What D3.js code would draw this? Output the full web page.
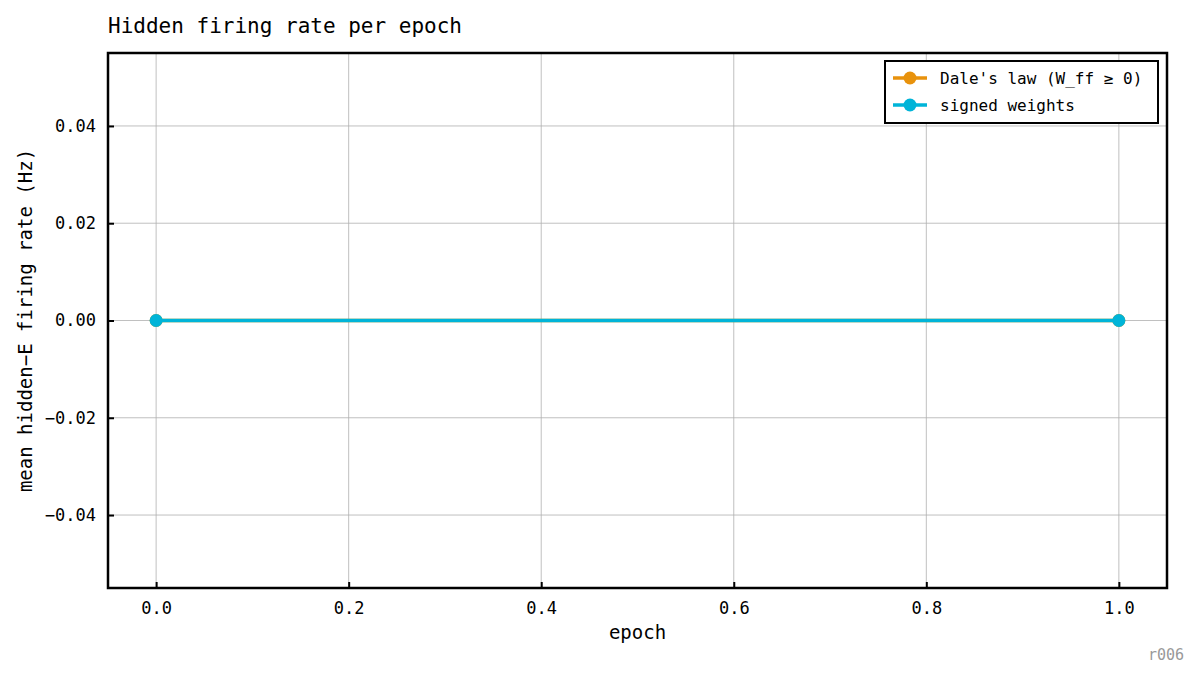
<!DOCTYPE html>
<html><head><meta charset="utf-8">
<script src="https://cdn.jsdelivr.net/npm/d3@7"></script>
<style>body{margin:0;background:#fff}text{font-family:"DejaVu Sans Mono",monospace}</style>
</head><body><svg id="c" width="1199" height="678"></svg>
<script>
const epochs=[0,1];
const daleValues=[0,0];
const signedValues=[0,0];
const xTicks=[0,0.2,0.4,0.6,0.8,1.0];
const yTicks=[-0.04,-0.02,0,0.02,0.04];
const seriesNames=["Dale's law (W_ff ≥ 0)","signed weights"];
const colors=["#e8920c","#00b4d8"];

const svg=d3.select("#c");
const L=108,R=1167,T=53,B=588;
const x=d3.scaleLinear().domain([-0.05,1.05]).range([L,R]);
const y=d3.scaleLinear().domain([-0.055,0.055]).range([B,T]);
const g=svg.append("g");
// grid
g.selectAll(".gx").data(xTicks).join("line").attr("x1",d=>x(d)).attr("x2",d=>x(d)).attr("y1",T).attr("y2",B).attr("stroke","#b0b0b0").attr("stroke-width",0.8);
g.selectAll(".gy").data(yTicks).join("line").attr("y1",d=>y(d)).attr("y2",d=>y(d)).attr("x1",L).attr("x2",R).attr("stroke","#b0b0b0").attr("stroke-width",0.8);
// axes
const xa=svg.append("g").attr("transform",`translate(0,${B})`).call(d3.axisBottom(x).tickValues(xTicks).tickFormat(d3.format(".1f")).tickSizeInner(-6).tickSizeOuter(0).tickPadding(14));
const ya=svg.append("g").attr("transform",`translate(${L},0)`).call(d3.axisLeft(y).tickValues(yTicks).tickFormat(d=>d3.format(".2f")(d).replace("-","\u2212")).tickSizeInner(-6).tickSizeOuter(0).tickPadding(12));
[xa,ya].forEach(a=>{a.select(".domain").remove();a.selectAll("line").attr("stroke","#000").attr("stroke-width",2);a.selectAll("text").attr("font-size",17).attr("font-family","DejaVu Sans Mono").attr("fill","#000");});
// lines
const line=d3.line().x((d,i)=>x(epochs[i])).y(d=>y(d));
[daleValues,signedValues].forEach((vals,k)=>{
  svg.append("path").datum(vals).attr("d",line).attr("fill","none").attr("stroke",colors[k]).attr("stroke-width",3.5);
  svg.selectAll(null).data(vals).join("circle").attr("cx",(d,i)=>x(epochs[i])).attr("cy",d=>y(d)).attr("r",6.5).attr("fill",colors[k]);
});
svg.append("rect").attr("x",L).attr("y",T).attr("width",R-L).attr("height",B-T).attr("fill","none").attr("stroke","#000").attr("stroke-width",2.5);
// legend
const lg=svg.append("g");
lg.append("rect").attr("x",885).attr("y",61).attr("width",273).attr("height",62).attr("fill","#fff").attr("stroke","#000").attr("stroke-width",2);
seriesNames.forEach((n,k)=>{
  const yy=78+k*27;
  lg.append("line").attr("x1",893).attr("x2",927).attr("y1",yy).attr("y2",yy).attr("stroke",colors[k]).attr("stroke-width",3.5);
  lg.append("circle").attr("cx",910).attr("cy",yy).attr("r",6.5).attr("fill",colors[k]);
  lg.append("text").attr("x",940).attr("y",yy+6).attr("font-size",16).text(n);
});
svg.append("text").attr("x",108).attr("y",33).attr("font-size",21).text("Hidden firing rate per epoch");
svg.append("text").attr("x",(L+R)/2).attr("y",639).attr("text-anchor","middle").attr("font-size",19).text("epoch");
svg.append("text").attr("transform",`translate(32,${(T+B)/2}) rotate(-90)`).attr("text-anchor","middle").attr("font-size",19).text("mean hidden\u2212E firing rate (Hz)");
svg.append("text").attr("x",1184).attr("y",660).attr("text-anchor","end").attr("font-size",15).attr("fill","#999").text("r006");
</script></body></html>
